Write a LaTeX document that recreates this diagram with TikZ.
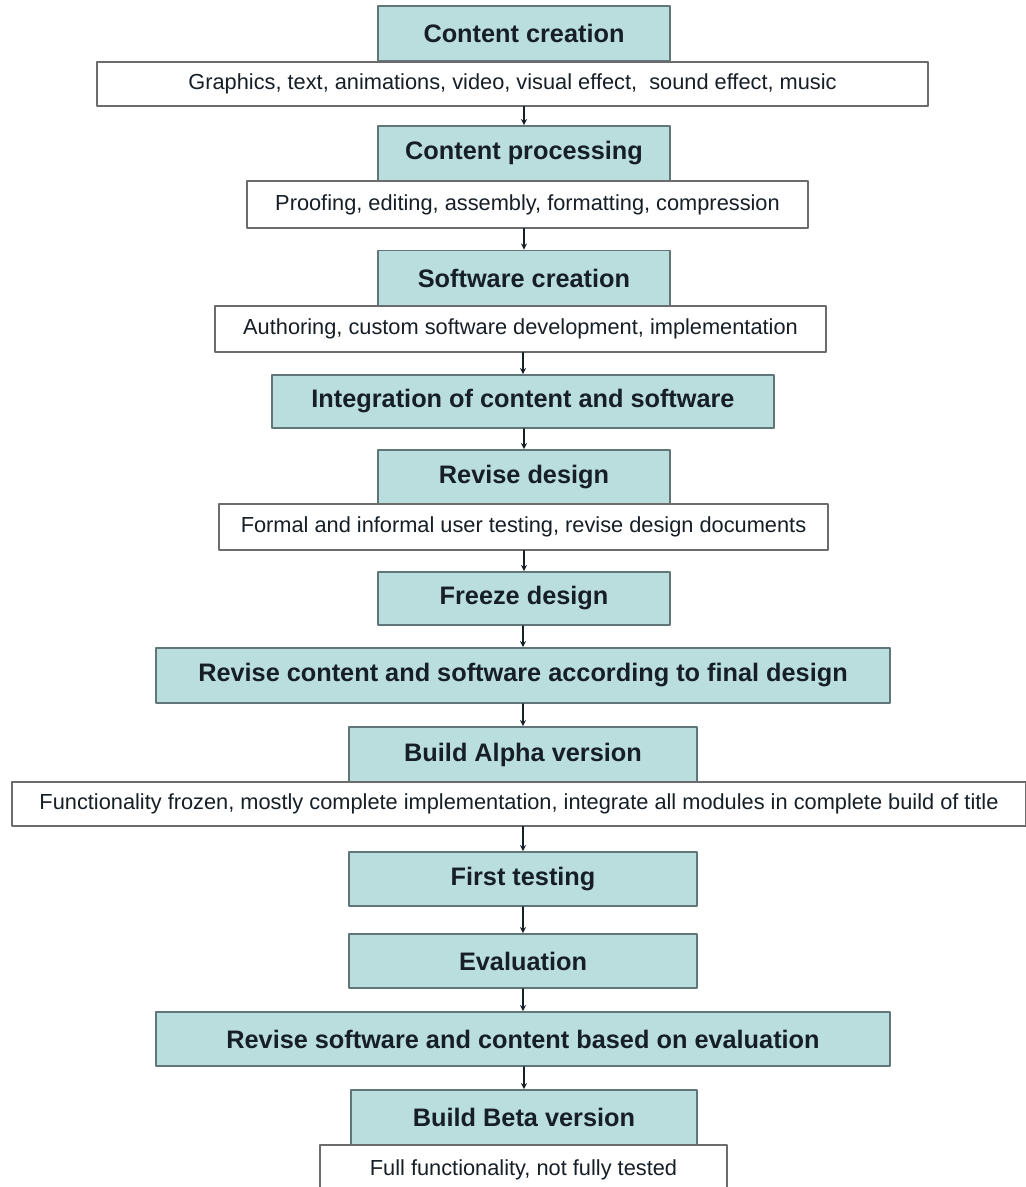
\documentclass[tikz,border=0pt]{standalone}
\usepackage{fontspec}
\setmainfont{Liberation Sans}
\definecolor{boxblue}{RGB}{186,221,222}
\definecolor{boxline}{RGB}{96,118,120}
\definecolor{txt}{RGB}{22,30,38}
\begin{document}
\begin{tikzpicture}[x=0.02cm,y=-0.02cm,line join=round,line cap=round,>=stealth,
	blk/.style={draw=boxline,fill=boxblue,line width=0.9pt,text=txt,font=\fontsize{14.4}{17}\selectfont\bfseries,minimum height=1.1cm,inner sep=0pt},
	note/.style={draw=gray!85!black,fill=white,line width=0.7pt,text=txt,font=\fontsize{12.4}{14}\selectfont,minimum height=0.88cm,inner sep=0pt}]
	\useasboundingbox (0,0) rectangle (1026,1187);
	\node[blk,minimum width=5.84cm] (b1) at (524,33.5) {Content creation};
	\node[note,minimum width=16.62cm] (n1) at (512.5,84) {Graphics, text, animations, video, visual effect,\ \ sound effect, music};
	\node[blk,minimum width=5.84cm] (b2) at (524,153.5) {Content processing};
	\node[note,minimum width=11.22cm,minimum height=0.94cm] (n2) at (527.5,204.5) {Proofing, editing, assembly, formatting, compression};
	\node[blk,minimum width=5.84cm] (b3) at (524,278) {Software creation};
	\node[note,minimum width=12.22cm,minimum height=0.92cm] (n3) at (520.5,329) {Authoring, custom software development, implementation};
	\node[blk,minimum width=10.04cm,minimum height=1.06cm] (b4) at (523,401.5) {Integration of content and software};
	\node[blk,minimum width=5.84cm,minimum height=1.08cm] (b5) at (524,477) {Revise design};
	\node[note,minimum width=12.18cm,minimum height=0.92cm] (n5) at (523.5,527) {Formal and informal user testing, revise design documents};
	\node[blk,minimum width=5.84cm,minimum height=1.06cm] (b6) at (524,598.5) {Freeze design};
	\node[blk,minimum width=14.68cm] (b7) at (523,675.5) {Revise content and software according to final design};
	\node[blk,minimum width=6.96cm] (b8) at (523,754.5) {Build Alpha version};
	\node[note,minimum width=20.28cm] (n8) at (519,804) {Functionality frozen, mostly complete implementation, integrate all modules in complete build of title};
	\node[blk,minimum width=6.96cm,minimum height=1.08cm] (b9) at (523,879) {First testing};
	\node[blk,minimum width=6.96cm,minimum height=1.08cm] (b10) at (523,961) {Evaluation};
	\node[blk,minimum width=14.68cm,minimum height=1.08cm] (b11) at (523,1039) {Revise software and content based on evaluation};
	\node[blk,minimum width=6.92cm] (b12) at (524,1117.5) {Build Beta version};
	\node[note,minimum width=8.14cm,minimum height=1.0cm] (n12) at (523.5,1170) {Full functionality, not fully tested};
	% arrows between the steps
	\foreach \a/\b in {n1/b2,n2/b3,n3/b4,b4/b5,n5/b6,b6/b7,b7/b8,n8/b9,b9/b10,b10/b11,b11/b12}
		\draw[->,line width=0.6pt,txt] (\b.north |- \a.south) -- (\b.north);
\end{tikzpicture}
\end{document}
